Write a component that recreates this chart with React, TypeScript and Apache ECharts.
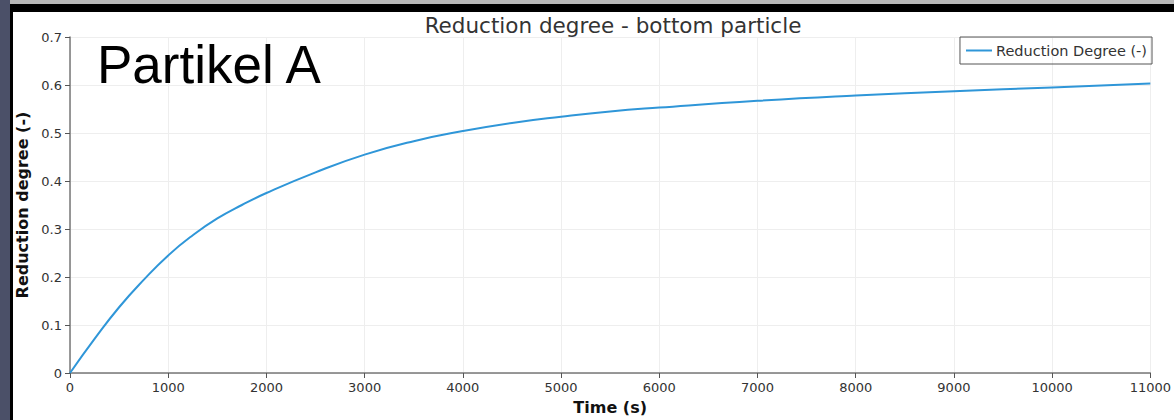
import React, { useEffect, useRef } from "react";
import * as echarts from "echarts";

const timeValues = [0, 250, 500, 750, 1000, 1250, 1500, 1750, 2000, 2500, 3000, 3500, 4000, 4500, 5000, 5500, 6000, 7000, 8000, 9000, 10000, 11000];
const reductionValues = [0, 0.071, 0.137, 0.194, 0.245, 0.287, 0.322, 0.35, 0.375, 0.418, 0.455, 0.483, 0.504, 0.521, 0.534, 0.545, 0.553, 0.567, 0.578, 0.587, 0.595, 0.603];
const seriesName = "Reduction Degree (-)";
const chartTitle = "Reduction degree - bottom particle";
const xAxisName = "Time (s)";
const yAxisName = "Reduction degree (-)";
const overlayLabel = "Partikel A";

export default function App() {
  const ref = useRef<HTMLDivElement>(null);
  useEffect(() => {
    if (!ref.current) return;
    const chart = echarts.init(ref.current, null, { renderer: "svg" });
    const data = timeValues.map((t, i) => [t, reductionValues[i]]);
    const font = "'DejaVu Sans', sans-serif";
    const lineColor = "#2f96d8";
    chart.setOption({
      animation: false,
      backgroundColor: "#ffffff",
      title: {
        text: chartTitle,
        left: 608,
        top: 9,
        textAlign: "center",
        textStyle: { fontSize: 21.5, fontWeight: "normal", color: "#333", fontFamily: font },
      },
      legend: {
        right: 22,
        top: 37,
        padding: [6, 5, 6, 6],
        itemGap: 4,
        itemWidth: 26,
        itemHeight: 2,
        borderColor: "#555",
        borderWidth: 1,
        borderRadius: 0,
        textStyle: { fontSize: 14.5, color: "#333", fontFamily: font, padding: [0, 0, 0, -1] },
        data: [{ name: seriesName, icon: "rect", itemStyle: { color: lineColor } }],
      },
      grid: { left: 70, right: 23, top: 37, bottom: 47, containLabel: false },
      xAxis: {
        type: "value",
        min: 0,
        max: 11000,
        interval: 1000,
        name: xAxisName,
        nameLocation: "middle",
        nameGap: 26,
        nameTextStyle: { fontSize: 16, fontWeight: "bold", color: "#111", fontFamily: font },
        axisLine: { show: true, lineStyle: { color: "#777", width: 1.5 } },
        axisTick: { show: true, length: 5, lineStyle: { color: "#555" } },
        axisLabel: { fontSize: 13, color: "#333", fontFamily: font, margin: 8, formatter: (v: number) => String(v) },
        splitLine: { show: true, lineStyle: { color: "#eeeeee" } },
      },
      yAxis: {
        type: "value",
        min: 0,
        max: 0.7,
        interval: 0.1,
        name: yAxisName,
        nameLocation: "middle",
        nameGap: 39,
        nameTextStyle: { fontSize: 16, fontWeight: "bold", color: "#111", fontFamily: font },
        axisLine: { show: true, lineStyle: { color: "#777", width: 1.5 } },
        axisTick: { show: true, length: 5, lineStyle: { color: "#555" } },
        axisLabel: { fontSize: 13, color: "#333", fontFamily: font, margin: 8 },
        splitLine: { show: true, lineStyle: { color: "#eeeeee" } },
      },
      series: [
        {
          name: seriesName,
          type: "line",
          data,
          smooth: true,
          showSymbol: false,
          lineStyle: { color: lineColor, width: 2 },
          itemStyle: { color: lineColor },
        },
      ],
      graphic: [
        { type: "rect", shape: { x: 0, y: 0, width: 1174, height: 4 }, style: { fill: "#b8b8b8" }, z: 100 },
        { type: "rect", shape: { x: 9, y: 4, width: 1165, height: 8 }, style: { fill: "#000" }, z: 100 },
        { type: "rect", shape: { x: 0, y: 0, width: 10, height: 420 }, style: { fill: "#4b5068" }, z: 101 },
        { type: "rect", shape: { x: 10, y: 4, width: 3, height: 416 }, style: { fill: "#000" }, z: 101 },
        {
          type: "text",
          left: 97,
          top: 38,
          style: { text: overlayLabel, fontSize: 53, fill: "#000", fontFamily: "'Liberation Sans', Arial, sans-serif" },
          z: 100,
        },
      ],
    });
    return () => chart.dispose();
  }, []);
  return <div ref={ref} style={{ position: "fixed", left: 0, top: 0, width: 1174, height: 420 }} />;
}
